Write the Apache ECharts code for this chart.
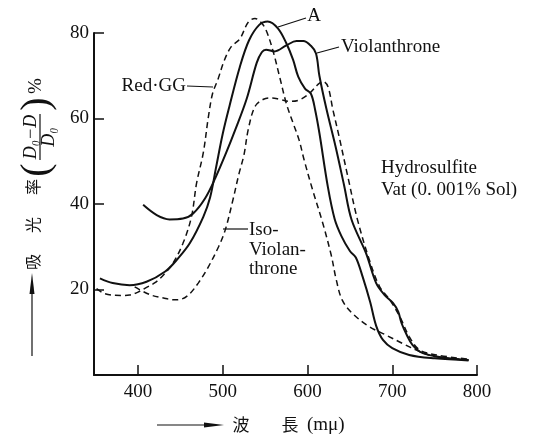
<!DOCTYPE html>
<html>
<head>
<meta charset="utf-8">
<script src="https://cdn.jsdelivr.net/npm/echarts@6/dist/echarts.min.js"></script>
<style>
html, body { margin: 0; padding: 0; background: #fff; }
#main { width: 540px; height: 440px; }
</style>
</head>
<body>
<div id="main"></div>
<script>
// wavelength (mμ) and absorbance (%)
const aWave = [355, 370, 390, 410, 432, 446, 461, 477, 485, 492, 500, 508, 520, 531, 543, 553, 565, 575, 583, 589, 597, 604, 609, 614, 624, 632, 640, 650, 657, 665, 674, 681, 689, 700, 720, 750, 790];
const aVal = [22.6, 21.5, 21.0, 21.8, 24.2, 27.0, 30.8, 37.0, 41.5, 48.5, 56.5, 63.0, 72.0, 78.3, 81.9, 82.7, 81.1, 77.6, 73.7, 69.8, 67.0, 65.8, 62.0, 56.6, 44.0, 36.5, 32.5, 29.0, 27.5, 23.0, 17.0, 11.5, 8.2, 6.3, 4.7, 3.9, 3.4];

const violWave = [406, 422, 437, 453, 465, 479, 491, 504, 515, 528, 540, 546, 551, 561, 575, 587, 595, 604, 610, 614, 622, 633, 643, 652, 669, 681, 691, 701, 707, 711, 717, 724, 736, 760, 790];
const violVal = [39.8, 37.4, 36.4, 36.6, 37.8, 41.3, 46.0, 52.0, 57.5, 64.5, 73.0, 75.5, 76.1, 75.7, 77.1, 78.1, 78.1, 77.0, 75.2, 70.0, 62.5, 53.5, 44.5, 36.3, 28.5, 21.5, 18.7, 16.8, 14.8, 12.1, 9.4, 7.0, 5.1, 4.1, 3.5];

const redWave = [351, 361, 380, 390, 400, 410, 420, 430, 441, 453, 463, 469, 477, 483, 488, 494, 502, 510, 520, 530, 538, 545, 551, 559, 567, 575, 583, 590, 596, 606, 618, 628, 634, 641, 653, 673, 692, 712, 732, 751, 790];
const redVal = [20.2, 19.0, 18.6, 18.7, 19.4, 20.5, 21.6, 23.4, 26.1, 30.8, 37.0, 44.8, 52.0, 60.4, 65.9, 69.0, 73.7, 76.8, 78.6, 82.5, 83.4, 82.5, 80.7, 76.0, 69.8, 63.5, 58.9, 55.0, 50.3, 43.3, 35.5, 28.0, 22.2, 17.5, 14.4, 11.3, 9.4, 7.4, 5.5, 4.3, 3.5];

const isoWave = [396, 414, 430, 442, 452, 461, 471, 481, 495, 503, 512, 519, 525, 530, 538, 548, 558, 567, 579, 591, 603, 612, 618, 624, 630, 637, 648, 659, 673, 685, 697, 709, 720, 732, 752, 790];
const isoVal = [20.6, 18.8, 18.0, 17.6, 17.8, 19.0, 21.5, 24.6, 30.0, 34.0, 41.0, 47.0, 51.5, 57.4, 62.8, 64.5, 64.8, 64.5, 64.0, 64.4, 66.0, 67.9, 68.7, 67.5, 62.0, 56.0, 46.0, 36.3, 26.9, 20.7, 17.6, 13.6, 9.0, 5.9, 4.7, 3.7];

const xTicks = [400, 500, 600, 700, 800];

function pairs(w, v) { return w.map((x, i) => [x, v[i]]); }

const ink = '#111';
const serif = '"Liberation Serif", "DejaVu Serif", serif';
const cjk = '"Noto Sans CJK JP", sans-serif';
const solid = { color: ink, width: 2 };
const dashed = { color: ink, width: 1.5, type: [6, 4] };

function curve(name, data, style) {
  return {
    name: name, type: 'line', data: data, smooth: 0.35,
    showSymbol: false, symbol: 'none', clip: false,
    lineStyle: style, itemStyle: { color: ink }
  };
}

function label(text, x, y, opt) {
  return Object.assign({
    type: 'text', x: x, y: y,
    style: { text: text, fill: ink, fontSize: 19, fontFamily: serif, align: 'left', verticalAlign: 'middle' }
  }, opt || {});
}
function vtext(text, x, y, size, family, style) {
  return {
    type: 'text', x: x, y: y, rotation: Math.PI / 2,
    style: Object.assign({ text: text, fill: ink, fontSize: size, fontFamily: family, align: 'center', verticalAlign: 'middle' }, style || {})
  };
}
function seg(x1, y1, x2, y2, w) {
  return { type: 'line', shape: { x1: x1, y1: y1, x2: x2, y2: y2 }, style: { stroke: ink, lineWidth: w || 1.2 } };
}

const chart = echarts.init(document.getElementById('main'));
chart.setOption({
  animation: false,
  backgroundColor: '#fff',
  grid: { left: 94, right: 63, top: 33, bottom: 65, outerBoundsMode: 'none' },
  xAxis: {
    type: 'value', min: 348, max: 800,
    axisLine: { show: true, lineStyle: { color: ink, width: 2 } },
    axisTick: { show: true, inside: true, length: 10, customValues: xTicks, lineStyle: { color: ink, width: 1.5 } },
    axisLabel: { customValues: xTicks, margin: 8, color: ink, fontSize: 19, fontFamily: serif },
    splitLine: { show: false }
  },
  yAxis: {
    type: 'value', min: 0, max: 80, interval: 20,
    axisLine: { show: true, lineStyle: { color: ink, width: 2 } },
    axisTick: { show: true, inside: true, length: 10, lineStyle: { color: ink, width: 1.5 } },
    axisLabel: { margin: 5, color: ink, fontSize: 19, fontFamily: serif, formatter: v => v === 0 ? '' : v },
    splitLine: { show: false }
  },
  series: [
    curve('A', pairs(aWave, aVal), solid),
    curve('Violanthrone', pairs(violWave, violVal), solid),
    curve('Red·GG', pairs(redWave, redVal), dashed),
    curve('Iso-Violanthrone', pairs(isoWave, isoVal), dashed)
  ],
  graphic: [
    // curve labels
    label('A', 314, 16, { style: { text: 'A', fill: ink, fontSize: 19, fontFamily: serif, align: 'center', verticalAlign: 'middle' } }),
    seg(278, 27, 306, 18),
    label('Violanthrone', 341, 47),
    seg(317, 53, 339, 47),
    label('Red·GG', 186, 86, { style: { text: 'Red·GG', fill: ink, fontSize: 19, fontFamily: serif, align: 'right', verticalAlign: 'middle' } }),
    seg(187, 86, 213, 87),
    label('Iso-', 249, 230),
    label('Violan-', 249, 250),
    label('throne', 249, 269),
    seg(223, 229, 248, 229),
    label('Hydrosulfite', 381, 168),
    label('Vat (0. 001% Sol)', 381, 190),
    // x axis title
    seg(157, 425, 210, 425),
    { type: 'polygon', shape: { points: [[224, 425], [204, 422.5], [204, 427.5]] }, style: { fill: ink } },
    { type: 'text', x: 241, y: 425, style: { text: '波', fill: ink, fontSize: 17, fontFamily: cjk, align: 'center', verticalAlign: 'middle' } },
    { type: 'text', x: 290, y: 425, style: { text: '長', fill: ink, fontSize: 17, fontFamily: cjk, align: 'center', verticalAlign: 'middle' } },
    label('(mμ)', 307, 425),
    // y axis title
    seg(32, 356, 32, 290),
    { type: 'polygon', shape: { points: [[32, 273], [34.5, 294], [29.5, 294]] }, style: { fill: ink } },
    vtext('吸', 33, 262, 16, cjk),
    vtext('光', 33, 225, 16, cjk),
    vtext('率', 33, 187, 16, cjk),
    vtext('(', 37, 170, 40, serif),
    vtext('D₀−D', 31, 137, 18, serif, { fontStyle: 'italic' }),
    seg(40, 160, 40, 114),
    vtext('D₀', 49, 137, 18, serif, { fontStyle: 'italic' }),
    vtext(')', 37, 104, 40, serif),
    vtext('%', 36, 86, 19, serif)
  ]
});
</script>
</body>
</html>
